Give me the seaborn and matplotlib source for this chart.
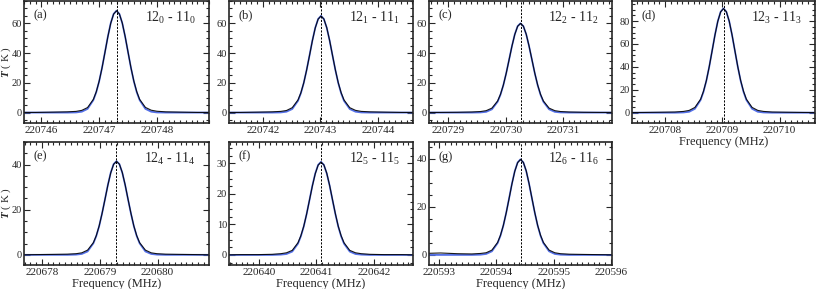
import numpy as np
import matplotlib
matplotlib.use('Agg')
import matplotlib.pyplot as plt
import seaborn as sns
from matplotlib.ticker import MultipleLocator

# Global style: serif fonts, inward ticks on all sides
sns.set_theme(style="ticks")
plt.rcParams['font.family'] = ['Liberation Serif', 'DejaVu Serif']
plt.rcParams['mathtext.fontset'] = 'custom'
plt.rcParams['mathtext.rm'] = 'Liberation Serif'
plt.rcParams['mathtext.it'] = 'Liberation Serif:italic'
plt.rcParams['mathtext.bf'] = 'Liberation Serif:bold'
plt.rcParams['mathtext.bfit'] = 'Liberation Serif:italic:bold'

# ----------------------------------------------------------
# Data
# ----------------------------------------------------------
panel_tags = ['(a)', '(b)', '(c)', '(d)', '(e)', '(f)', '(g)']
k_levels = ['0', '1', '2', '3', '4', '5', '6']
line_centres = [220747.30, 220743.01, 220730.26, 220709.02, 220679.29, 220641.08, 220594.42]

# frequency offsets from line centre (MHz)
offsets = [-1.7, -1.4, -1.1, -0.85, -0.7, -0.6, -0.5, -0.4, -0.35, -0.3, -0.25, -0.2, -0.15, -0.1, -0.05,
           0.0, 0.05, 0.1, 0.15, 0.2, 0.25, 0.3, 0.35, 0.4, 0.5, 0.6, 0.7, 0.85, 1.1, 1.4, 1.7]

obs_a = [0.1, 0.1, 0.3, 0.5, 0.8, 1.5, 3.4, 8.9, 14.0, 21.1, 30.1, 40.4, 50.9, 60.0, 66.2, 68.4,
         66.3, 60.2, 51.1, 40.6, 30.2, 21.2, 14.1, 8.9, 3.5, 1.6, 0.9, 0.5, 0.3, 0.1, 0.1]
fit_a = [0, 0, 0, 0, 0.1, 0.6, 2.5, 8.4, 13.7, 21.0, 30.1, 40.5, 51.0, 60.1, 66.3, 68.5,
         66.3, 60.1, 51.0, 40.5, 30.1, 21.0, 13.7, 8.4, 2.5, 0.6, 0.1, 0, 0, 0, 0]

obs_b = [0.1, 0.1, 0.3, 0.5, 0.8, 1.4, 3.3, 8.5, 13.3, 20.0, 28.6, 38.3, 48.3, 56.9, 62.8, 64.9,
         62.9, 57.1, 48.5, 38.5, 28.7, 20.1, 13.4, 8.5, 3.3, 1.5, 0.8, 0.5, 0.3, 0.1, 0.1]
fit_b = [0, 0, 0, 0, 0.1, 0.6, 2.4, 7.9, 13.0, 19.9, 28.6, 38.4, 48.4, 57.0, 62.9, 65.0,
         62.9, 57.0, 48.4, 38.4, 28.6, 19.9, 13.0, 7.9, 2.4, 0.6, 0.1, 0, 0, 0, 0]

obs_c = [0.1, 0.1, 0.2, 0.4, 0.7, 1.3, 3.0, 7.8, 12.3, 18.5, 26.4, 35.4, 44.6, 52.5, 58.0, 59.9,
         58.1, 52.7, 44.7, 35.6, 26.5, 18.6, 12.3, 7.8, 3.0, 1.3, 0.7, 0.4, 0.2, 0.1, 0.1]
fit_c = [0, 0, 0, 0, 0.1, 0.5, 2.2, 7.3, 12.0, 18.4, 26.4, 35.5, 44.6, 52.6, 58.1, 60.0,
         58.1, 52.6, 44.6, 35.5, 26.4, 18.4, 12.0, 7.3, 2.2, 0.5, 0.1, 0, 0, 0, 0]

obs_d = [0.1, 0.2, 0.4, 0.6, 1.1, 2.0, 4.6, 11.8, 18.7, 28.0, 40.0, 53.7, 67.6, 79.7, 88.0, 90.9,
         88.1, 79.9, 67.8, 53.9, 40.1, 28.1, 18.7, 11.8, 4.6, 2.0, 1.1, 0.6, 0.4, 0.2, 0.1]
fit_d = [0, 0, 0, 0, 0.2, 0.8, 3.4, 11.1, 18.2, 27.8, 40.0, 53.8, 67.7, 79.8, 88.1, 91.0,
         88.1, 79.8, 67.7, 53.8, 40.0, 27.8, 18.2, 11.1, 3.4, 0.8, 0.2, 0, 0, 0, 0]

obs_e = [0.0, 0.1, 0.2, 0.3, 0.5, 0.9, 2.1, 5.4, 8.5, 12.8, 18.3, 24.5, 30.8, 36.3, 40.1, 41.4,
         40.2, 36.5, 31.0, 24.6, 18.4, 12.8, 8.5, 5.4, 2.1, 0.9, 0.5, 0.3, 0.2, 0.1, 0.0]
fit_e = [0, 0, 0, 0, 0.1, 0.4, 1.5, 5.1, 8.3, 12.7, 18.3, 24.5, 30.9, 36.4, 40.2, 41.5,
         40.2, 36.4, 30.9, 24.5, 18.3, 12.7, 8.3, 5.1, 1.5, 0.4, 0.1, 0, 0, 0, 0]

obs_f = [0.0, 0.1, 0.1, 0.2, 0.4, 0.7, 1.5, 4.0, 6.3, 9.4, 13.4, 18.0, 22.6, 26.6, 29.4, 30.4,
         29.5, 26.8, 22.8, 18.1, 13.5, 9.4, 6.3, 4.0, 1.5, 0.7, 0.4, 0.2, 0.1, 0.1, 0.0]
fit_f = [0, 0, 0, 0, 0.1, 0.3, 1.1, 3.7, 6.1, 9.3, 13.4, 18.0, 22.7, 26.7, 29.5, 30.5,
         29.5, 26.7, 22.7, 18.0, 13.4, 9.3, 6.1, 3.7, 1.1, 0.3, 0.1, 0, 0, 0, 0]

obs_g = [0.6, 0.8, 0.5, 0.4, 0.6, 0.9, 2.0, 5.2, 8.2, 12.3, 17.5, 23.4, 29.5, 34.8, 38.4, 39.7,
         38.5, 35.0, 29.7, 23.6, 17.6, 12.3, 8.2, 5.2, 2.0, 0.9, 0.5, 0.3, 0.2, 0.1, 0.0]
fit_g = [0, 0, 0, 0, 0.1, 0.4, 1.5, 4.9, 8.0, 12.2, 17.5, 23.5, 29.6, 34.9, 38.5, 39.8,
         38.5, 34.9, 29.6, 23.5, 17.5, 12.2, 8.0, 4.9, 1.5, 0.4, 0.1, 0, 0, 0, 0]

observed = [obs_a, obs_b, obs_c, obs_d, obs_e, obs_f, obs_g]
fitted = [fit_a, fit_b, fit_c, fit_d, fit_e, fit_f, fit_g]

x_ticks = [[220746, 220747, 220748], [220742, 220743, 220744], [220729, 220730, 220731],
           [220708, 220709, 220710], [220678, 220679, 220680], [220640, 220641, 220642],
           [220593, 220594, 220595, 220596]]
y_limits = [(-7, 75), (-7, 75), (-7, 75), (-9, 97.5), (-4.5, 50), (-3.3, 37), (-4.2, 47)]
y_steps = [20, 20, 20, 20, 20, 10, 20]

# ----------------------------------------------------------
# Layout: axes rectangles in pixels (left, top, right, bottom)
# ----------------------------------------------------------
W, H = 817, 289
boxes = [(24, 1, 209, 123), (229, 1, 413, 123), (429, 1, 612, 123), (632, 1, 815, 123),
         (24, 142, 209, 265), (229, 142, 413, 265), (429, 142, 612, 265)]

fig = plt.figure(figsize=(W / 100, H / 100), dpi=100)

for i in range(7):
    l, t, r, b = boxes[i]
    ax = fig.add_axes([l / W, (H - b) / H, (r - l) / W, (b - t) / H])
    centre = line_centres[i]
    freqs = np.array(offsets) + centre

    sns.lineplot(x=freqs, y=fitted[i], ax=ax, color='#5470e8', lw=1.3)
    sns.lineplot(x=freqs, y=observed[i], ax=ax, color='black', lw=0.8, alpha=0.9)
    ax.axvline(centre, color='black', lw=0.7, ls=(0, (2.2, 1.4)))

    ax.set_xlim(centre - 1.6, centre + 1.6)
    ax.set_ylim(*y_limits[i])
    ax.set_xticks(x_ticks[i])
    ax.set_xticklabels([str(v) for v in x_ticks[i]])
    ax.xaxis.set_minor_locator(MultipleLocator(0.1))
    ax.yaxis.set_major_locator(MultipleLocator(y_steps[i]))
    ax.yaxis.set_minor_locator(MultipleLocator(y_steps[i] / 4))
    ax.tick_params(which='both', direction='in', top=True, right=True, labelsize=8,
                   width=0.8, pad=2)
    ax.tick_params(axis='y', pad=1.5, labelsize=7.5)
    ax.tick_params(which='major', length=4)
    ax.tick_params(which='minor', length=2)
    for sp in ax.spines.values():
        sp.set_linewidth(1.2)

    ax.text(0.05, 0.93, panel_tags[i], transform=ax.transAxes, fontsize=9, va='top')
    ax.text(0.93, 0.93, rf"12$_{k_levels[i]}$ - 11$_{k_levels[i]}$", transform=ax.transAxes,
            fontsize=10, va='top', ha='right')

    if i in (0, 4):
        ax.set_ylabel(r"$\mathbfit{T}$ ( K )", fontsize=8, va='center')
        ax.yaxis.set_label_coords(-0.098, 0.5)
    if i >= 3:
        ax.set_xlabel("Frequency (MHz)", fontsize=9, labelpad=1)

fig.savefig('out.png', dpi=100)
